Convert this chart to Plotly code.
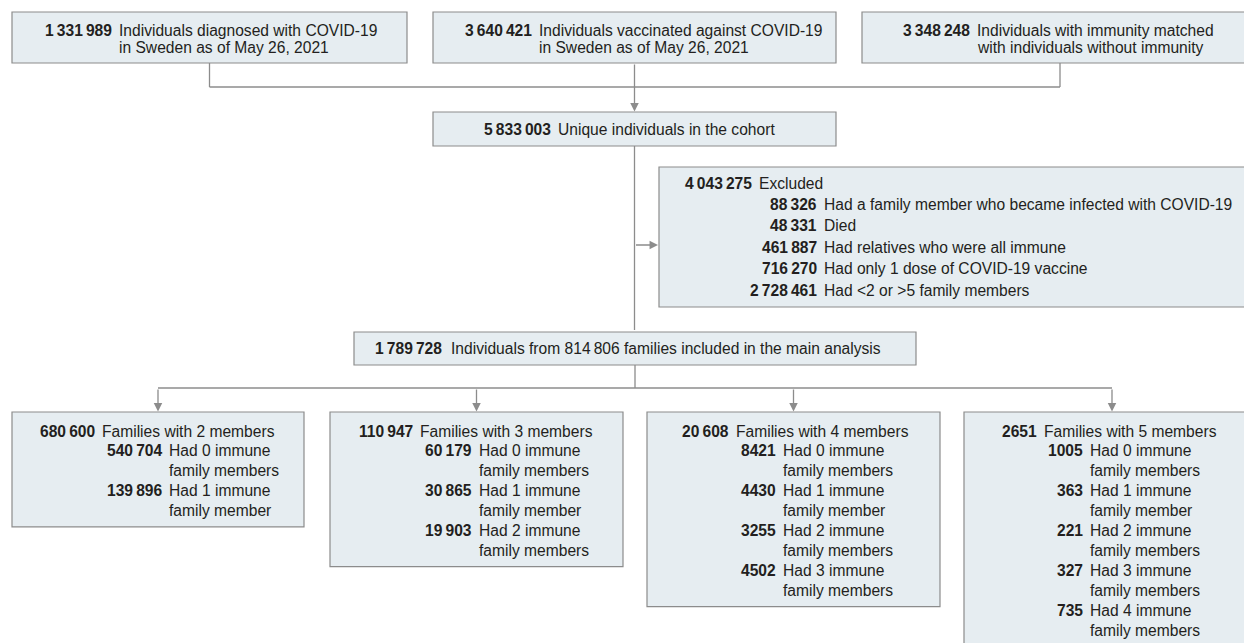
import plotly.graph_objects as go

# ---------------- data ----------------
top_numbers = [1331989, 3640421, 3348248]
top_labels = [
    ["Individuals diagnosed with COVID-19", "in Sweden as of May 26, 2021"],
    ["Individuals vaccinated against COVID-19", "in Sweden as of May 26, 2021"],
    ["Individuals with immunity matched", "with individuals without immunity"],
]
cohort_number = 5833003
cohort_label = "Unique individuals in the cohort"

excluded_total = 4043275
excluded_label = "Excluded"
excluded_numbers = [88326, 48331, 461887, 716270, 2728461]
excluded_labels = [
    "Had a family member who became infected with COVID-19",
    "Died",
    "Had relatives who were all immune",
    "Had only 1 dose of COVID-19 vaccine",
    "Had <2 or >5 family members",
]

analysis_individuals = 1789728
analysis_families = 814806

family_sizes = [2, 3, 4, 5]
family_totals = [680600, 110947, 20608, 2651]
family_immune_counts = [
    [540704, 139896],
    [60179, 30865, 19903],
    [8421, 4430, 3255, 4502],
    [1005, 363, 221, 327, 735],
]

# ---------------- style ----------------
W, H = 1252, 643
OFF = 8  # page body margin compensation
FONT = "Liberation Sans, Arial, Helvetica, sans-serif"
FS = 15.6
TXT = "#231f20"
FILL = "#e6edf1"
EDGE = "#8c8c8c"
LINE = "#8c8c8c"


def fmt(n):
    if n < 10000:
        return str(n)
    return f"{n:,}".replace(",", "\u2009")


shapes, anns = [], []


def box(x0, x1, y0, y1):
    shapes.append(dict(type="rect", xref="x", yref="y", x0=x0, x1=x1, y0=y0, y1=y1,
                       line=dict(color=EDGE, width=1.2), fillcolor=FILL, layer="below"))


def seg(x0, y0, x1, y1):
    shapes.append(dict(type="line", xref="x", yref="y", x0=x0, y0=y0, x1=x1, y1=y1,
                       line=dict(color=LINE, width=1.3), layer="below"))


def arrow(x0, y0, x1, y1):
    anns.append(dict(x=x1, y=y1, ax=x0, ay=y0, xref="x", yref="y", axref="x", ayref="y",
                     text="", showarrow=True, arrowhead=2, arrowsize=1.3, arrowwidth=1.3,
                     arrowcolor=LINE, standoff=0, startstandoff=0))


def txt(x, y, s, anchor="left", bold=False):
    anns.append(dict(x=x, y=y, xref="x", yref="y", text=f"<b>{s}</b>" if bold else s,
                     showarrow=False, xanchor=anchor, yanchor="middle",
                     font=dict(family=FONT, size=FS, color=TXT), borderpad=0, borderwidth=0))


def entry(num_right, y, number, lines, gap=6.5, dy=17.5):
    txt(num_right, y, fmt(number), anchor="right", bold=True)
    for i, line in enumerate(lines):
        txt(num_right + gap, y + i * dy, line)


# ---------------- top row ----------------
top_boxes = [(12, 407), (433, 836), (862, 1262)]
top_num_right = [112, 532, 970]
for (x0, x1), nr, n, lab in zip(top_boxes, top_num_right, top_numbers, top_labels):
    box(x0, x1, 12, 63)
    entry(nr, 30, n, lab)

c1 = (top_boxes[0][0] + top_boxes[0][1]) / 2
c2 = 634.5
c3 = (top_boxes[2][0] + 1258) / 2
seg(c1, 63, c1, 87)
seg(c3, 63, c3, 87)
seg(c1, 87, c3, 87)
arrow(c2, 63, c2, 111.5)

# ---------------- cohort ----------------
box(433, 836, 112, 146)
entry(551, 129, cohort_number, [cohort_label])

# ---------------- excluded ----------------
box(659, 1262, 167, 307)
ex_dy = 21.4
entry(752, 183, excluded_total, [excluded_label])
for i, (n, lab) in enumerate(zip(excluded_numbers, excluded_labels)):
    entry(817, 183 + ex_dy * (i + 1), n, [lab])

seg(c2, 146, c2, 330)
arrow(c2, 330, c2, 331.5)
arrow(c2, 245, 658, 245)

# ---------------- main analysis ----------------
box(354, 916, 332, 365)
entry(442, 348.5, analysis_individuals,
      [f"Individuals from {fmt(analysis_families)} families included in the main analysis"], gap=8.5)

# ---------------- family boxes ----------------
fam_boxes = [(12, 304), (330, 623), (647, 940), (964, 1262)]
fam_main_right = [95, 413, 729, 1037]
fam_sub_right = [162, 472, 776, 1083]
top_y = 412
line0 = 431
dy = 19.95

seg(635, 365, 635, 388)
centers = [(a + b) / 2 for a, b in fam_boxes[:3]] + [1112]
seg(centers[0], 388, centers[-1], 388)
for cx in centers:
    arrow(cx, 388, cx, 411.5)

for (x0, x1), mr, sr, size, tot, subs in zip(fam_boxes, fam_main_right, fam_sub_right,
                                             family_sizes, family_totals, family_immune_counts):
    nlines = 1 + 2 * len(subs)
    box(x0, x1, top_y, line0 + dy * (nlines - 1) + 16)
    entry(mr, line0, tot, [f"Families with {size} members"], gap=7)
    for k, n in enumerate(subs):
        y = line0 + dy * (1 + 2 * k)
        tail = "family member" if k == 1 else "family members"
        entry(sr, y, n, [f"Had {k} immune", tail], gap=7, dy=dy)

fig = go.Figure()
fig.update_layout(
    width=W - OFF, height=H - OFF, margin=dict(l=0, r=0, t=0, b=0),
    paper_bgcolor="white", plot_bgcolor="white",
    xaxis=dict(range=[OFF, W], visible=False, fixedrange=True),
    yaxis=dict(range=[H, OFF], visible=False, fixedrange=True),
    shapes=shapes, annotations=anns, showlegend=False,
)
fig.write_html("out.html")
